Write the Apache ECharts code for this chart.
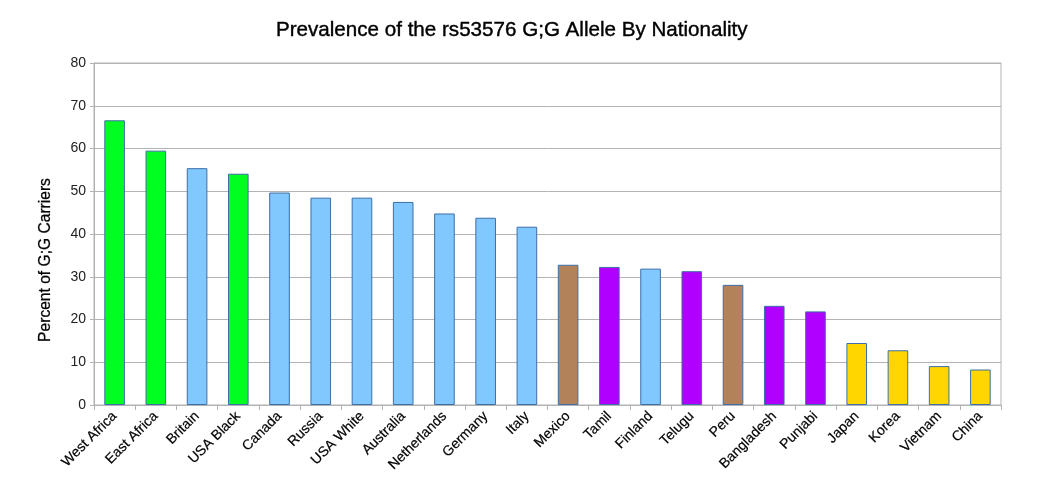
<!DOCTYPE html>
<html>
<head>
<meta charset="utf-8">
<script src="https://cdn.jsdelivr.net/npm/echarts@6/dist/echarts.min.js"></script>
<style>
html,body{margin:0;padding:0;background:#fff;}
#chart{width:1062px;height:498px;}
</style>
</head>
<body>
<div id="chart"></div>
<script>
const categories = ['West Africa','East Africa','Britain','USA Black','Canada','Russia','USA White','Australia','Netherlands','Germany','Italy','Mexico','Tamil','Finland','Telugu','Peru','Bangladesh','Punjabi','Japan','Korea','Vietnam','China'];
const values = [66.6, 59.5, 55.4, 54.1, 49.7, 48.5, 48.5, 47.5, 44.8, 43.8, 41.7, 32.8, 32.3, 31.9, 31.3, 28.1, 23.2, 21.9, 14.5, 12.8, 9.1, 8.3];
const groups = ['African','African','European','African','European','European','European','European','European','European','European','Latin','Indian','European','Indian','Latin','Indian','Indian','EastAsian','EastAsian','EastAsian','EastAsian'];
const yTicks = [0, 10, 20, 30, 40, 50, 60, 70, 80];

const groupColors = {
  African: '#00ff21',
  European: '#80c8ff',
  Latin: '#b2825a',
  Indian: '#b000ff',
  EastAsian: '#ffd600'
};

const chart = echarts.init(document.getElementById('chart'), null, {renderer: 'canvas'});
const fontFamily = '"Liberation Sans", Arial, sans-serif';

chart.setOption({
  animation: false,
  backgroundColor: '#ffffff',
  title: {
    text: 'Prevalence of the rs53576 G;G Allele By Nationality',
    left: 271,
    top: 15,
    textStyle: {fontFamily: fontFamily, fontSize: 20.6, fontWeight: 'normal', color: '#000',
      textBorderColor: '#000', textBorderWidth: 0.4}
  },
  grid: {
    left: 94, right: 61, top: 63, bottom: 93,
    show: true, borderColor: '#b3b3b3', borderWidth: 1, containLabel: false
  },
  xAxis: {
    type: 'category',
    data: categories,
    boundaryGap: true,
    axisLine: {lineStyle: {color: '#b3b3b3', width: 1}},
    axisTick: {show: true, length: 5, lineStyle: {color: '#b3b3b3'}},
    axisLabel: {
      rotate: 45, interval: 0, margin: 9,
      fontFamily: fontFamily, fontSize: 14, color: '#000',
      textBorderColor: '#000', textBorderWidth: 0.2
    }
  },
  yAxis: {
    type: 'value',
    min: yTicks[0], max: yTicks[yTicks.length - 1], interval: 10,
    name: 'Percent of G;G Carriers',
    nameLocation: 'middle',
    nameGap: 40,
    nameTextStyle: {fontFamily: fontFamily, fontSize: 15.6, color: '#000', padding: [0, 52, 0, 0],
      textBorderColor: '#000', textBorderWidth: 0.25},
    axisLine: {show: true, lineStyle: {color: '#b3b3b3', width: 1}},
    axisTick: {show: true, length: 4, lineStyle: {color: '#b3b3b3'}},
    axisLabel: {fontFamily: fontFamily, fontSize: 14, color: '#222', margin: 8},
    splitLine: {show: true, lineStyle: {color: '#b3b3b3', width: 1}}
  },
  series: [{
    type: 'bar',
    barWidth: '50%',
    data: values.map((v, i) => ({
      value: v,
      itemStyle: {color: groupColors[groups[i]], borderColor: '#3d6ea8', borderWidth: 1}
    }))
  }]
});
</script>
</body>
</html>
